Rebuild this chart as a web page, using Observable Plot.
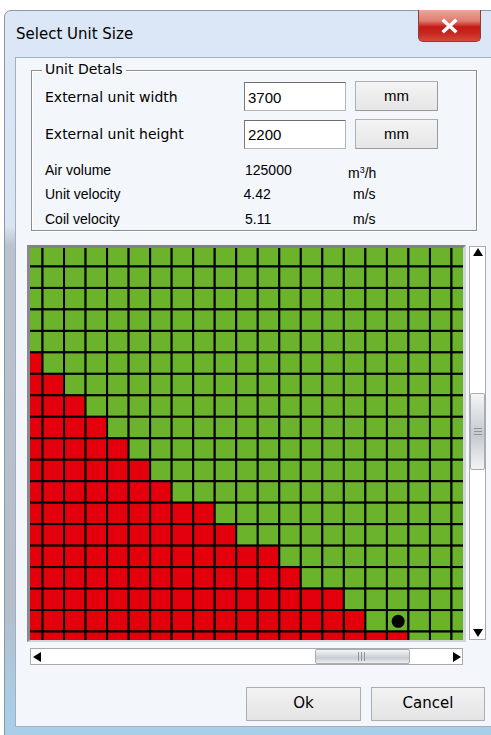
<!DOCTYPE html>
<html><head><meta charset="utf-8">
<script src="https://cdn.jsdelivr.net/npm/d3@7"></script>
<script src="https://cdn.jsdelivr.net/npm/@observablehq/plot@0.6"></script>
<style>
html,body{margin:0;padding:0;width:491px;height:735px;overflow:hidden;background:#ffffff;}
#root{position:relative;width:491px;height:735px;overflow:hidden;}
.a{position:absolute;box-sizing:border-box;white-space:nowrap;}
.dv{font-family:"DejaVu Sans",sans-serif;color:#000;}
.ls{font-family:"Liberation Sans",Arial,sans-serif;color:#000;}
</style></head><body>
<div id="root"></div>
<script>
// ---- data ----
const dialogTitle = "Select Unit Size";
const groupTitle = "Unit Detals";
const inputLabels = ["External unit width", "External unit height"];
const inputValues = ["3700", "2200"];
const inputUnits = ["mm", "mm"];
const infoLabels = ["Air volume", "Unit velocity", "Coil velocity"];
const infoValues = ["125000", "4.42", "5.11"];
const infoUnits = ["m³/h", "m/s", "m/s"];
const buttonLabels = ["Ok", "Cancel"];

// grid: column and row indices of the visible (scrolled) part of the unit-size grid
const columns = [0,1,2,3,4,5,6,7,8,9,10,11,12,13,14,15,16,17,18,19,20];
const rows = [0,1,2,3,4,5,6,7,8,9,10,11,12,13,14,15,16,17,18];
// number of red (not allowed) cells from the left, per row
const redCounts = [0,0,0,0,0,1,2,3,4,5,6,7,9,10,12,13,15,16,18];
const statusNames = ["ok", "fail"];
const selectedCell = [{col: 17, row: 17}];

const GREEN = "#6ab32a";
const RED = "#e3000c";

const cells = [];
rows.forEach((r, i) => {
  columns.forEach((c, j) => {
    cells.push({row: r, col: c, status: j < redCounts[i] ? "fail" : "ok"});
  });
});

// ---- dialog chrome ----
const root = document.getElementById("root");
function el(cls, x, y, w, h, css, txt) {
  const d = document.createElement("div");
  d.className = "a " + (cls || "");
  d.style.left = x + "px"; d.style.top = y + "px";
  if (w != null) d.style.width = w + "px";
  if (h != null) d.style.height = h + "px";
  if (css) d.style.cssText += css;
  if (txt != null) d.textContent = txt;
  root.appendChild(d);
  return d;
}
function textAt(cls, x, cy, size, txt, css) {
  const h = Math.round(size * 1.4);
  return el(cls, x, cy - h / 2, null, h, `font-size:${size}px;line-height:${h}px;` + (css || ""), txt);
}

// window frame
el("", 4, 10, 500, 740,
  "background:linear-gradient(to bottom,#dbe7f6 0px,#d8e4f2 215px,#b9c3cd 235px,#b4bfca 600px,#a9cde6 690px,#a9cfe8 740px);border:1px solid #8b98a5;border-radius:7px 7px 0 0;");
// title
textAt("dv", 16, 34, 15, dialogTitle);
// close button
const cb = el("", 418, 10, 63, 32,
  "background:linear-gradient(to bottom,#eea69c 0%,#e07c70 35%,#c41a14 55%,#c7271f 75%,#d6493d 100%);border:1px solid #8d3b33;border-top:none;border-radius:0 0 5px 5px;");
cb.innerHTML = '<svg width="63" height="32" style="position:absolute;left:-1px;top:0"><path d="M26 11 L37 21 M37 11 L26 21" stroke="#fff" stroke-width="3.6" stroke-linecap="square"/></svg>';

// content area
el("", 15, 57, 480, 670, "background:#f3f6fa;border:1px solid #9fb0c1;");

// group box
el("", 31, 70, 446, 161, "border:1px solid #8e8e8e;box-shadow:inset 1px 1px 0 #ffffff, 1px 1px 0 #ffffff;");
textAt("dv", 42, 69, 14, groupTitle, "background:#f3f6fa;padding:0 3px;");

// input rows
const inputCy = [97, 134];
const inputTop = [82, 120];
inputLabels.forEach((lab, i) => {
  textAt("dv", 45, inputCy[i], 14, lab);
  el("", 244, inputTop[i], 102, 29, "background:#fff;border:1px solid #b5b5b5;border-top-color:#6e6e6e;border-left-color:#7a7a7a;");
  textAt("ls", 248, inputCy[i] + 0.5, 15, inputValues[i]);
  const b = el("ls", 355, inputTop[i] - 1, 83, 30,
    "background:linear-gradient(to bottom,#f4f4f4,#e6e6e6);border:1px solid #b0b0b0;border-right-color:#9a9a9a;border-bottom-color:#9a9a9a;text-align:center;font-size:15px;line-height:27px;", inputUnits[i]);
});

// info rows
const infoCy = [170, 194, 219];
const valueX = [245, 243.5, 245];
const unitX = [348, 353, 353];
infoLabels.forEach((lab, i) => {
  textAt("ls", 45, infoCy[i], 14, lab);
  textAt("ls", valueX[i], infoCy[i], 14, infoValues[i]);
  const u = textAt("ls", unitX[i], infoCy[i], 14, "");
  if (infoUnits[i].includes("³")) {
    u.innerHTML = 'm<span style="font-size:9px;vertical-align:5px">3</span>/h';
  } else u.textContent = infoUnits[i];
});

// grid viewport (sunken border)
el("", 27, 245, 439, 397, "background:#c9ced3;border-top:3px solid #828282;border-left:3px solid #8a8a8a;border-right:3px solid #cfd4d9;border-bottom:2px solid #cfd4d9;");
const vp = el("", 30, 248, 433, 392, "overflow:hidden;background:" + GREEN + ";");

// ---- the chart ----
const chart = Plot.plot({
  width: 452,
  height: 408,
  margin: 0,
  style: {background: "transparent", maxWidth: "none", overflow: "visible"},
  x: {type: "band", domain: columns, padding: 0, round: false, axis: null},
  y: {type: "band", domain: rows, padding: 0, round: false, axis: null},
  color: {domain: statusNames, range: [GREEN, RED]},
  marks: [
    Plot.cell(cells, {x: "col", y: "row", fill: "status", stroke: "#000", strokeWidth: 2, inset: 0}),
    Plot.dot(selectedCell, {x: "col", y: "row", r: 6.5, fill: "#000", stroke: "none"})
  ]
});
chart.style.position = "absolute";
chart.style.left = "-9.5px";
chart.style.top = "-2.8px";
chart.style.maxWidth = "none";
vp.appendChild(chart);

// vertical scrollbar
el("", 469, 246, 17, 394, "background:#fff;border:1px solid #ababab;");
el("", 473, 248, 0, 0, "border-left:5px solid transparent;border-right:5px solid transparent;border-bottom:8px solid #000;");
el("", 473, 629, 0, 0, "border-left:5px solid transparent;border-right:5px solid transparent;border-top:8px solid #000;");
el("", 470, 393, 15, 77, "background:linear-gradient(to bottom,#f4f5f6 0%,#d9dde1 30%,#c3c9cf 55%,#dfe2e5 80%,#f2f3f4 100%);border:1px solid #a9adb1;border-radius:2px;");
[428, 431, 434].forEach(y => el("", 474, y, 8, 1, "background:#8d969e;"));

// horizontal scrollbar
el("", 30, 648, 433, 17, "background:#fff;border:1px solid #ababab;");
el("", 33, 652, 0, 0, "border-top:5px solid transparent;border-bottom:5px solid transparent;border-right:8px solid #000;");
el("", 453, 652, 0, 0, "border-top:5px solid transparent;border-bottom:5px solid transparent;border-left:8px solid #000;");
el("", 315, 649, 95, 15, "background:linear-gradient(to bottom,#f4f5f6 0%,#dfe2e5 30%,#c6ccd2 60%,#dfe2e5 85%,#eef0f2 100%);border:1px solid #a9adb1;border-radius:2px;");
[358, 361, 364].forEach(x => el("", x, 652, 1, 9, "background:#8d969e;"));

// bottom buttons
const btnX = [246, 371];
const btnW = [115, 114];
buttonLabels.forEach((lab, i) => {
  el("dv", btnX[i], 687, btnW[i], 34,
    "background:linear-gradient(to bottom,#f2f2f2,#e4e4e4);border:1px solid #adadad;text-align:center;font-size:15px;line-height:31px;", lab);
});
</script>
</body></html>
